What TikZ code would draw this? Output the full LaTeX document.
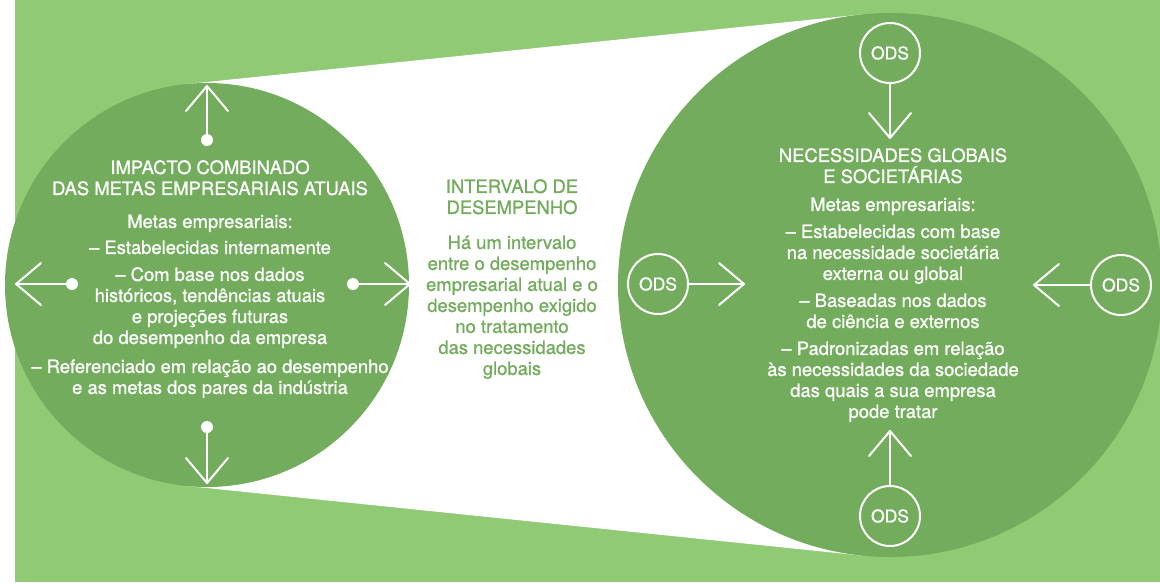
\documentclass[tikz,border=0pt]{standalone}
\usepackage{fontspec}
\setmainfont{TeX Gyre Heros}[FakeBold=0.9]
\usetikzlibrary{arrows.meta}
\definecolor{bggreen}{RGB}{144,202,116}
\definecolor{dkgreen}{RGB}{114,172,92}

\begin{document}
\begin{tikzpicture}[x=1pt,y=-1pt,
  dot/.style={circle,fill=white,inner sep=0pt,minimum size=12pt},
  ods/.style={circle,draw=white,line width=2pt,inner sep=0pt,minimum size=60pt,
    text=white,font=\fontsize{17.5}{20}\selectfont},
  arr/.style={draw=white,line width=2pt,-{Straight Barb[length=25pt,width=42pt,round]}},
  bodytext/.style={anchor=north,inner sep=0pt,align=center,
    font=\fontsize{18.4}{21}\selectfont}]
  \useasboundingbox (0,0) rectangle (1160,582);
  \fill[white] (0,0) rectangle (1160,582);
  \fill[bggreen] (15,0) rectangle (1160,582);
  \fill[white] (186.3,84.1) -- (862.1,14.4) -- (862.1,555.6) -- (186.3,485.9) -- cycle;
  \fill[dkgreen] (207,285) circle (202);
  \fill[dkgreen] (890,285) circle (272);

  \node[bodytext,text=white] (impacto) at (210,160) {IMPACTO COMBINADO\\DAS METAS EMPRESARIAIS ATUAIS\\[12pt]
    Metas empresariais:\\[5pt]
    – Estabelecidas internamente\\[6pt]
    – Com base nos dados\\históricos, tendências atuais\\e projeções futuras\\do desempenho da empresa\\[8pt]
    – Referenciado em relação ao desempenho\\e as metas dos pares da indústria};
  \node[bodytext,text=dkgreen] (intervalo) at (512,179) {INTERVALO DE\\DESEMPENHO\\[14pt]
    Há um intervalo\\entre o desempenho\\empresarial atual e o\\desempenho exigido\\no tratamento\\das necessidades\\globais};
  \node[bodytext,text=white] (necessidades) at (893,148) {NECESSIDADES GLOBAIS\\E SOCIETÁRIAS\\[7pt]
    Metas empresariais:\\[6pt]
    – Estabelecidas com base\\na necessidade societária\\externa ou global\\[6pt]
    – Baseadas nos dados\\de ciência e externos\\[6pt]
    – Padronizadas em relação\\às necessidades da sociedade\\das quais a sua empresa\\pode tratar};

  \node[dot] (dotN) at (207,140) {};
  \node[dot] (dotW) at (72,284) {};
  \node[dot] (dotE) at (353,284) {};
  \node[dot] (dotS) at (207,427) {};
  \coordinate (tipN) at (207,85);
  \coordinate (tipW) at (15,284);
  \coordinate (tipE) at (411,284);
  \coordinate (tipS) at (207,484);
  \draw[arr] (dotN) -- (tipN);
  \draw[arr] (dotW) -- (tipW);
  \draw[arr] (dotE) -- (tipE);
  \draw[arr] (dotS) -- (tipS);

  \node[ods] (odsN) at (890,53) {ODS};
  \node[ods] (odsW) at (658,284) {ODS};
  \node[ods] (odsE) at (1121,285) {ODS};
  \node[ods] (odsS) at (890,516) {ODS};
  \coordinate (inN) at (890,139);
  \coordinate (inW) at (745,284);
  \coordinate (inE) at (1033,285);
  \coordinate (inS) at (890,430);
  \draw[arr] (odsN) -- (inN);
  \draw[arr] (odsW) -- (inW);
  \draw[arr] (odsE) -- (inE);
  \draw[arr] (odsS) -- (inS);
\end{tikzpicture}
\end{document}
